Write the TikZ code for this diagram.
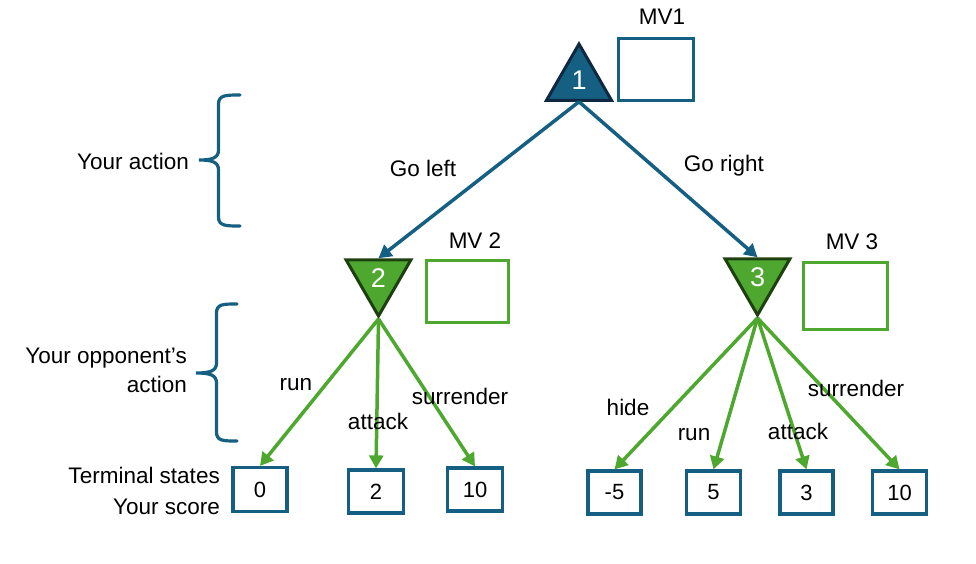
\documentclass[tikz,border=0pt]{standalone}
\usepackage{fontspec}
\setmainfont{Liberation Sans}
\usetikzlibrary{shapes.geometric,arrows.meta}
\definecolor{ablue}{HTML}{156082}
\definecolor{ablueD}{HTML}{0E2841}
\definecolor{agreen}{HTML}{4EA72E}
\definecolor{agreenD}{HTML}{1E4010}
\tikzset{
  lbl/.style={font=\fontsize{22.5}{29}\selectfont, inner sep=0pt, text=black},
  tri/.style={regular polygon, regular polygon sides=3, minimum size=75pt, inner sep=0pt, line width=3pt,
     text=white, font=\fontsize{27}{30}\selectfont},
  mvbox/.style={draw, line width=3pt, minimum width=#1, minimum height=62pt, inner sep=0pt},
  term/.style={draw=ablue, line width=3.2pt, minimum width=53pt, minimum height=43pt, inner sep=0pt,
     font=\fontsize{22}{25}\selectfont},
  bedge/.style={draw=ablue, line width=3.5pt, -{Triangle[length=13pt,width=14pt]}},
  gedge/.style={draw=agreen, line width=3.5pt, -{Triangle[length=13pt,width=14pt]}},
  brace/.style={draw=ablue, line width=3.2pt, line cap=round},
}
\begin{document}
\begin{tikzpicture}[x=1pt,y=-1pt]
\useasboundingbox (0,0) rectangle (976,563);
% decision nodes
\node[tri, fill=ablue, draw=ablueD] (t1) at (579,81.5) {\raisebox{2pt}{1}};
\node[tri, fill=agreen, draw=agreenD, shape border rotate=180] (t2) at (378.5,278.5) {2};
\node[tri, fill=agreen, draw=agreenD, shape border rotate=180] (t3) at (757.5,277.5) {3};
% MV boxes
\node[mvbox=75pt, draw=ablue] (mv1) at (655.5,69) {};
\node[mvbox=82pt, draw=agreen] (mv2) at (467,291.5) {};
\node[mvbox=84pt, draw=agreen, minimum height=67pt] (mv3) at (845,295.5) {};
\node[lbl] (mv1l) at (662,17) {MV1};
\node[lbl] (mv2l) at (475,241) {MV 2};
\node[lbl] (mv3l) at (852,242) {MV 3};
% terminal boxes
\node[term, minimum width=54pt, minimum height=44pt] (s0) at (260,489.5) {0};
\node[term, minimum width=55pt] (s2) at (376,491.5) {2};
\node[term, minimum width=55pt] (s10a) at (475,489.5) {10};
\node[term] (sm5) at (614.5,492.5) {-5};
\node[term, minimum width=54pt] (s5) at (713.5,492.5) {5};
\node[term] (s3) at (806.5,492.5) {3};
\node[term, minimum width=54pt] (s10b) at (899.5,492.5) {10};
% edges
\draw[bedge] (t1.side 2) -- (t2.side 2);
\draw[bedge] (t1.side 2) -- (t3.side 2);
\draw[gedge] (t2.corner 1) -- (s0.north);
\draw[gedge] (t2.corner 1) -- (s2.north);
\draw[gedge] (t2.corner 1) -- (s10a.north);
\draw[gedge] (t3.corner 1) -- (sm5.north);
\draw[gedge] (t3.corner 1) -- (s5.north);
\draw[gedge] (t3.corner 1) -- (s3.north);
\draw[gedge] (t3.corner 1) -- (s10b.north);
% edge labels
\node[lbl] (gl) at (423,168) {Go left};
\node[lbl] (gr) at (724,166) {Go right};
\node[lbl] (lrun) at (296,385) {run};
\node[lbl] (latt) at (378,421) {attack};
\node[lbl] (lsur) at (460,396) {surrender};
\node[lbl] (rhide) at (628,407) {hide};
\node[lbl] (rrun) at (694,435) {run};
\node[lbl] (ratt) at (798,431) {attack};
\node[lbl] (rsur) at (856,388) {surrender};
% braces
\draw[brace] (240,95) .. controls (226,95) and (218.5,95) .. (218.5,104) -- (218.5,150)
  .. controls (218.5,158) and (212,160) .. (199,160)
  .. controls (212,160) and (218.5,162) .. (218.5,170) -- (218.5,217)
  .. controls (218.5,226) and (226,226) .. (240,226);
\draw[brace] (237,304) .. controls (223,304) and (216.5,304) .. (216.5,313) -- (216.5,363)
  .. controls (216.5,371) and (210,373) .. (196,373)
  .. controls (210,373) and (216.5,375) .. (216.5,383) -- (216.5,432)
  .. controls (216.5,441) and (223,441) .. (237,441);
% side labels
\node[lbl, anchor=east] (ya) at (189,161) {Your action};
\node[lbl, anchor=east, align=right] (yo) at (187,370) {Your opponent’s\\action};
\node[lbl, anchor=east, align=right] (ts) at (220,490.5) {Terminal states\\[2pt]Your score};
\end{tikzpicture}
\end{document}
